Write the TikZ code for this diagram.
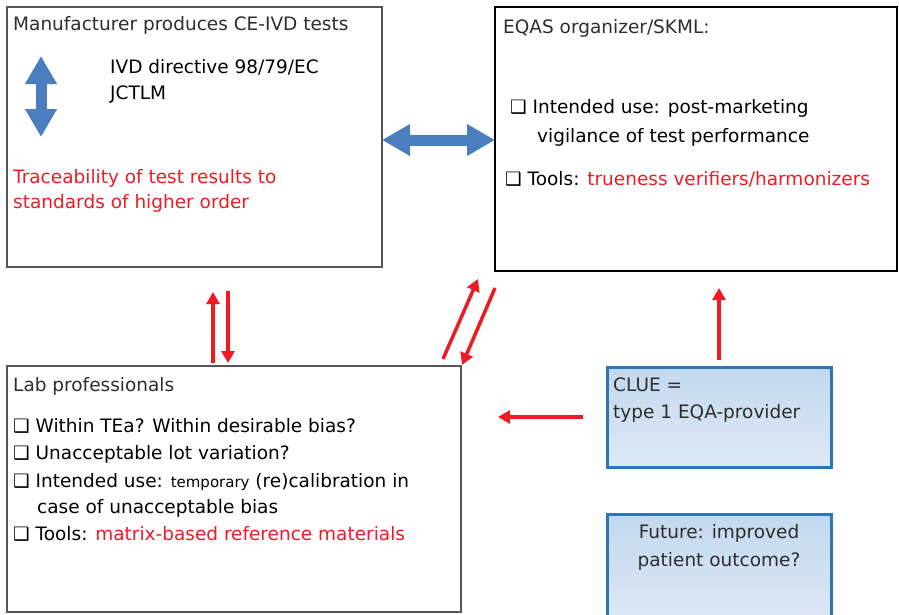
\documentclass[tikz,border=0pt]{standalone}
\usepackage{fontspec}
\setmainfont{DejaVu Sans}
\usetikzlibrary{arrows.meta,calc}

\definecolor{boxgray}{RGB}{85,85,85}
\definecolor{textgray}{RGB}{45,45,45}
\definecolor{tracered}{RGB}{237,28,36}
\definecolor{arrowblue}{RGB}{74,126,190}
\definecolor{clueblue}{RGB}{46,117,182}
\definecolor{cluetop}{RGB}{194,215,238}
\definecolor{cluebot}{RGB}{222,233,246}

\tikzstyle{box} = [draw=boxgray, line width=1.5pt, anchor=north west, inner sep=0pt, outer sep=0pt]
\tikzstyle{cluebox} = [draw=clueblue, line width=3pt, top color=cluetop, bottom color=cluebot, anchor=north west, inner sep=0pt, outer sep=0pt]
\tikzstyle{txt} = [anchor=base west, inner sep=0pt, text=textgray, font=\fontsize{18.5}{22}\selectfont]
\tikzstyle{redtxt} = [txt, text=tracered]
\tikzstyle{redarrow} = [draw=tracered, line width=3.5pt, -{Triangle[length=12pt,width=13pt]}]
\tikzstyle{bluearrow} = [draw=arrowblue, line width=11pt, {Triangle[length=28pt,width=30pt]}-{Triangle[length=28pt,width=30pt]}]

\newcommand{\chk}{\textcolor{black}{❑}}

\begin{document}
\begin{tikzpicture}[x=1pt, y=-1pt]
        \useasboundingbox (0,0) rectangle (899,614);
        \node[box, minimum width=375pt, minimum height=260pt] (mfr) at (7,7) {};
        \node[box, draw=black, line width=2pt, minimum width=402pt, minimum height=264pt] (eqas) at (495,7) {};
        \node[box, minimum width=454pt, minimum height=246pt] (lab) at (7,366) {};
        \node[cluebox, minimum width=224pt, minimum height=100pt] (clue) at (607,367) {};
        \node[cluebox, minimum width=224pt, minimum height=110pt] (future) at (607,514) {};

        \node[txt] (mfrtitle) at (13,30) {Manufacturer produces CE-IVD tests};
        \node[txt, text=black] (ivd) at (110,73) {IVD directive 98/79/EC};
        \node[txt, text=black] (jctlm) at (110,99) {JCTLM};
        \node[redtxt] (trace1) at (13,183) {Traceability of test results to};
        \node[redtxt] (trace2) at (13,208) {standards of higher order};

        \node[txt] (eqastitle) at (503,33) {EQAS organizer/SKML:};
        \node[txt, text=black] (use1) at (510,113) {\chk\ Intended use: post-marketing};
        \node[txt, text=black] (use2) at (537,142) {vigilance of test performance};
        \node[txt, text=black] (tools1) at (505,185) {\chk\ Tools: \textcolor{tracered}{trueness verifiers/harmonizers}};

        \node[txt] (labtitle) at (13,391) {Lab professionals};
        \node[txt, text=black] (lab1) at (13,432) {\chk\ Within TEa? Within desirable bias?};
        \node[txt, text=black] (lab2) at (13,459) {\chk\ Unacceptable lot variation?};
        \node[txt, text=black] (lab3) at (13,487) {\chk\ Intended use: {\fontsize{15}{18}\selectfont temporary} (re)calibration in};
        \node[txt, text=black] (lab4) at (37,513) {case of unacceptable bias};
        \node[txt, text=black] (lab5) at (13,540) {\chk\ Tools: \textcolor{tracered}{matrix-based reference materials}};

        \node[txt] (clue1) at (613,391) {CLUE =};
        \node[txt] (clue2) at (613,418) {type 1 EQA-provider};
        \node[txt, anchor=base, align=center] (fut1) at (719,538) {Future: improved};
        \node[txt, anchor=base, align=center] (fut2) at (719,566) {patient outcome?};

        \coordinate (ivdtop) at (41,56);
        \coordinate (ivdbot) at (41,137);
        \draw[bluearrow] (ivdtop) -- (ivdbot);
        \draw[bluearrow] ([yshift=-3pt]mfr.east) -- ([yshift=-3pt]mfr.east -| eqas.west);

        \draw[redarrow] ($(lab.north west)+(206,-3)$) -- ($(lab.north west |- mfr.south)+(206,25)$);
        \draw[redarrow] ($(lab.north west |- mfr.south)+(221,24)$) -- ($(lab.north west)+(221,-3)$);
        \draw[redarrow] ($(lab.north east)+(-18,-7)$) -- ($(eqas.south west)+(-17,8)$);
        \draw[redarrow] ($(eqas.south west)+(0,17)$) -- ($(lab.north east)+(1,-1)$);
        \draw[redarrow] ($(clue.north)+(0,-7)$) -- ($(clue.north |- eqas.south)+(0,17)$);
        \draw[redarrow] ($(clue.west)+(-24,0)$) -- ($(clue.west -| lab.east)+(37,0)$);
        \end{tikzpicture}
\end{document}
